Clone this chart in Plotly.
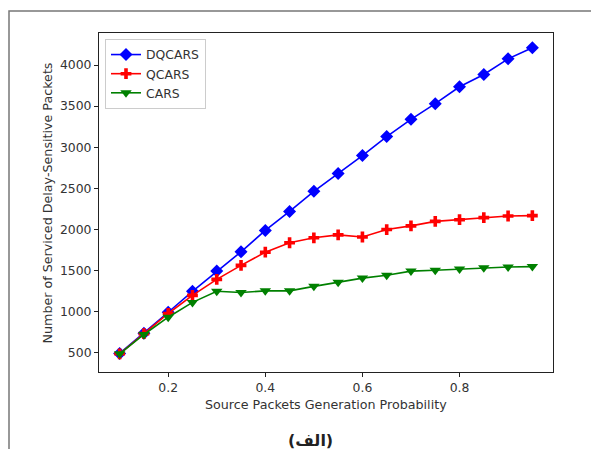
import plotly.graph_objects as go

# Data
prob = [0.1, 0.15, 0.2, 0.25, 0.3, 0.35, 0.4, 0.45, 0.5, 0.55, 0.6, 0.65, 0.7, 0.75, 0.8, 0.85, 0.9, 0.95]
dqcars = [495, 740, 995, 1250, 1495, 1730, 1990, 2220, 2465, 2680, 2900, 3130, 3340, 3530, 3735, 3885, 4075, 4210]
qcars = [490, 735, 980, 1200, 1395, 1565, 1725, 1840, 1900, 1935, 1910, 2000, 2045, 2100, 2120, 2145, 2165, 2170]
cars = [490, 725, 935, 1115, 1250, 1235, 1255, 1255, 1310, 1360, 1410, 1445, 1495, 1505, 1520, 1535, 1545, 1550]
y_ticks = [500, 1000, 1500, 2000, 2500, 3000, 3500, 4000]
x_ticks = [0.2, 0.4, 0.6, 0.8]

W, H = 591, 449
L, R, T, B = 99, 553, 33, 372
pw, ph = R - L, B - T
FS = 12.4

def px(x):
    return (x - L) / pw

def py(y):
    return (B - y) / ph

fig = go.Figure()
fig.add_trace(go.Scatter(x=prob, y=dqcars, name="DQCARS", mode="lines+markers",
                         line=dict(color="blue", width=1.6),
                         marker=dict(symbol="diamond", size=10, color="blue")))
fig.add_trace(go.Scatter(x=prob, y=qcars, name="QCARS", mode="lines+markers",
                         line=dict(color="red", width=1.6),
                         marker=dict(symbol="cross", size=9, color="red")))
fig.add_trace(go.Scatter(x=prob, y=cars, name="CARS", mode="lines+markers",
                         line=dict(color="green", width=1.6),
                         marker=dict(symbol="triangle-down", size=10, color="green")))

axis_common = dict(showline=True, mirror=True, linecolor="#222", linewidth=1,
                   ticks="outside", ticklen=4, tickcolor="#222", showgrid=False,
                   zeroline=False, automargin=False,
                   tickfont=dict(size=FS, color="#333"))

fig.update_xaxes(range=[0.0575, 0.9925], tickvals=x_ticks,
                 ticktext=[f"{v:.1f}" for v in x_ticks], **axis_common)
fig.update_yaxes(range=[269, 4389], tickvals=y_ticks, **axis_common)

fig.update_layout(
    width=W, height=H,
    margin=dict(l=L, r=W - R, t=T, b=H - B, pad=0, autoexpand=False),
    paper_bgcolor="white", plot_bgcolor="white",
    font=dict(family="DejaVu Sans", size=FS, color="#333"),
    legend=dict(x=px(105), y=py(39), xanchor="left", yanchor="top",
                bgcolor="white", bordercolor="#ccc", borderwidth=1,
                font=dict(size=FS, color="#333"), tracegroupgap=0),
    showlegend=True,
)

# axis titles
fig.add_annotation(text="Source Packets Generation Probability", xref="paper", yref="paper",
                   x=px(326), y=py(404), xanchor="center", yanchor="middle",
                   showarrow=False, font=dict(size=12.7, color="#333"))
fig.add_annotation(text="Number of Serviced Delay-Sensitive Packets", xref="paper", yref="paper",
                   x=px(46.5), y=py(203), xanchor="center", yanchor="middle", textangle=-90,
                   showarrow=False, font=dict(size=12.7, color="#333"))

# outer frame (partially visible border around the figure)
fig.add_shape(type="path", xref="paper", yref="paper",
              path=f"M {px(9)} {py(449)} L {px(9)} {py(11)} L {px(591)} {py(11)}",
              line=dict(color="#777", width=1.5))

fig.add_annotation(text="<b>(الف)</b>", xref="paper", yref="paper",
                   x=px(310), y=py(440), xanchor="center", yanchor="middle",
                   showarrow=False, font=dict(family="DejaVu Sans", size=16, color="#222"))

fig.write_html("out.html", config={"displayModeBar": False},
               post_script="document.body.style.margin='0';document.body.style.overflow='hidden';")
